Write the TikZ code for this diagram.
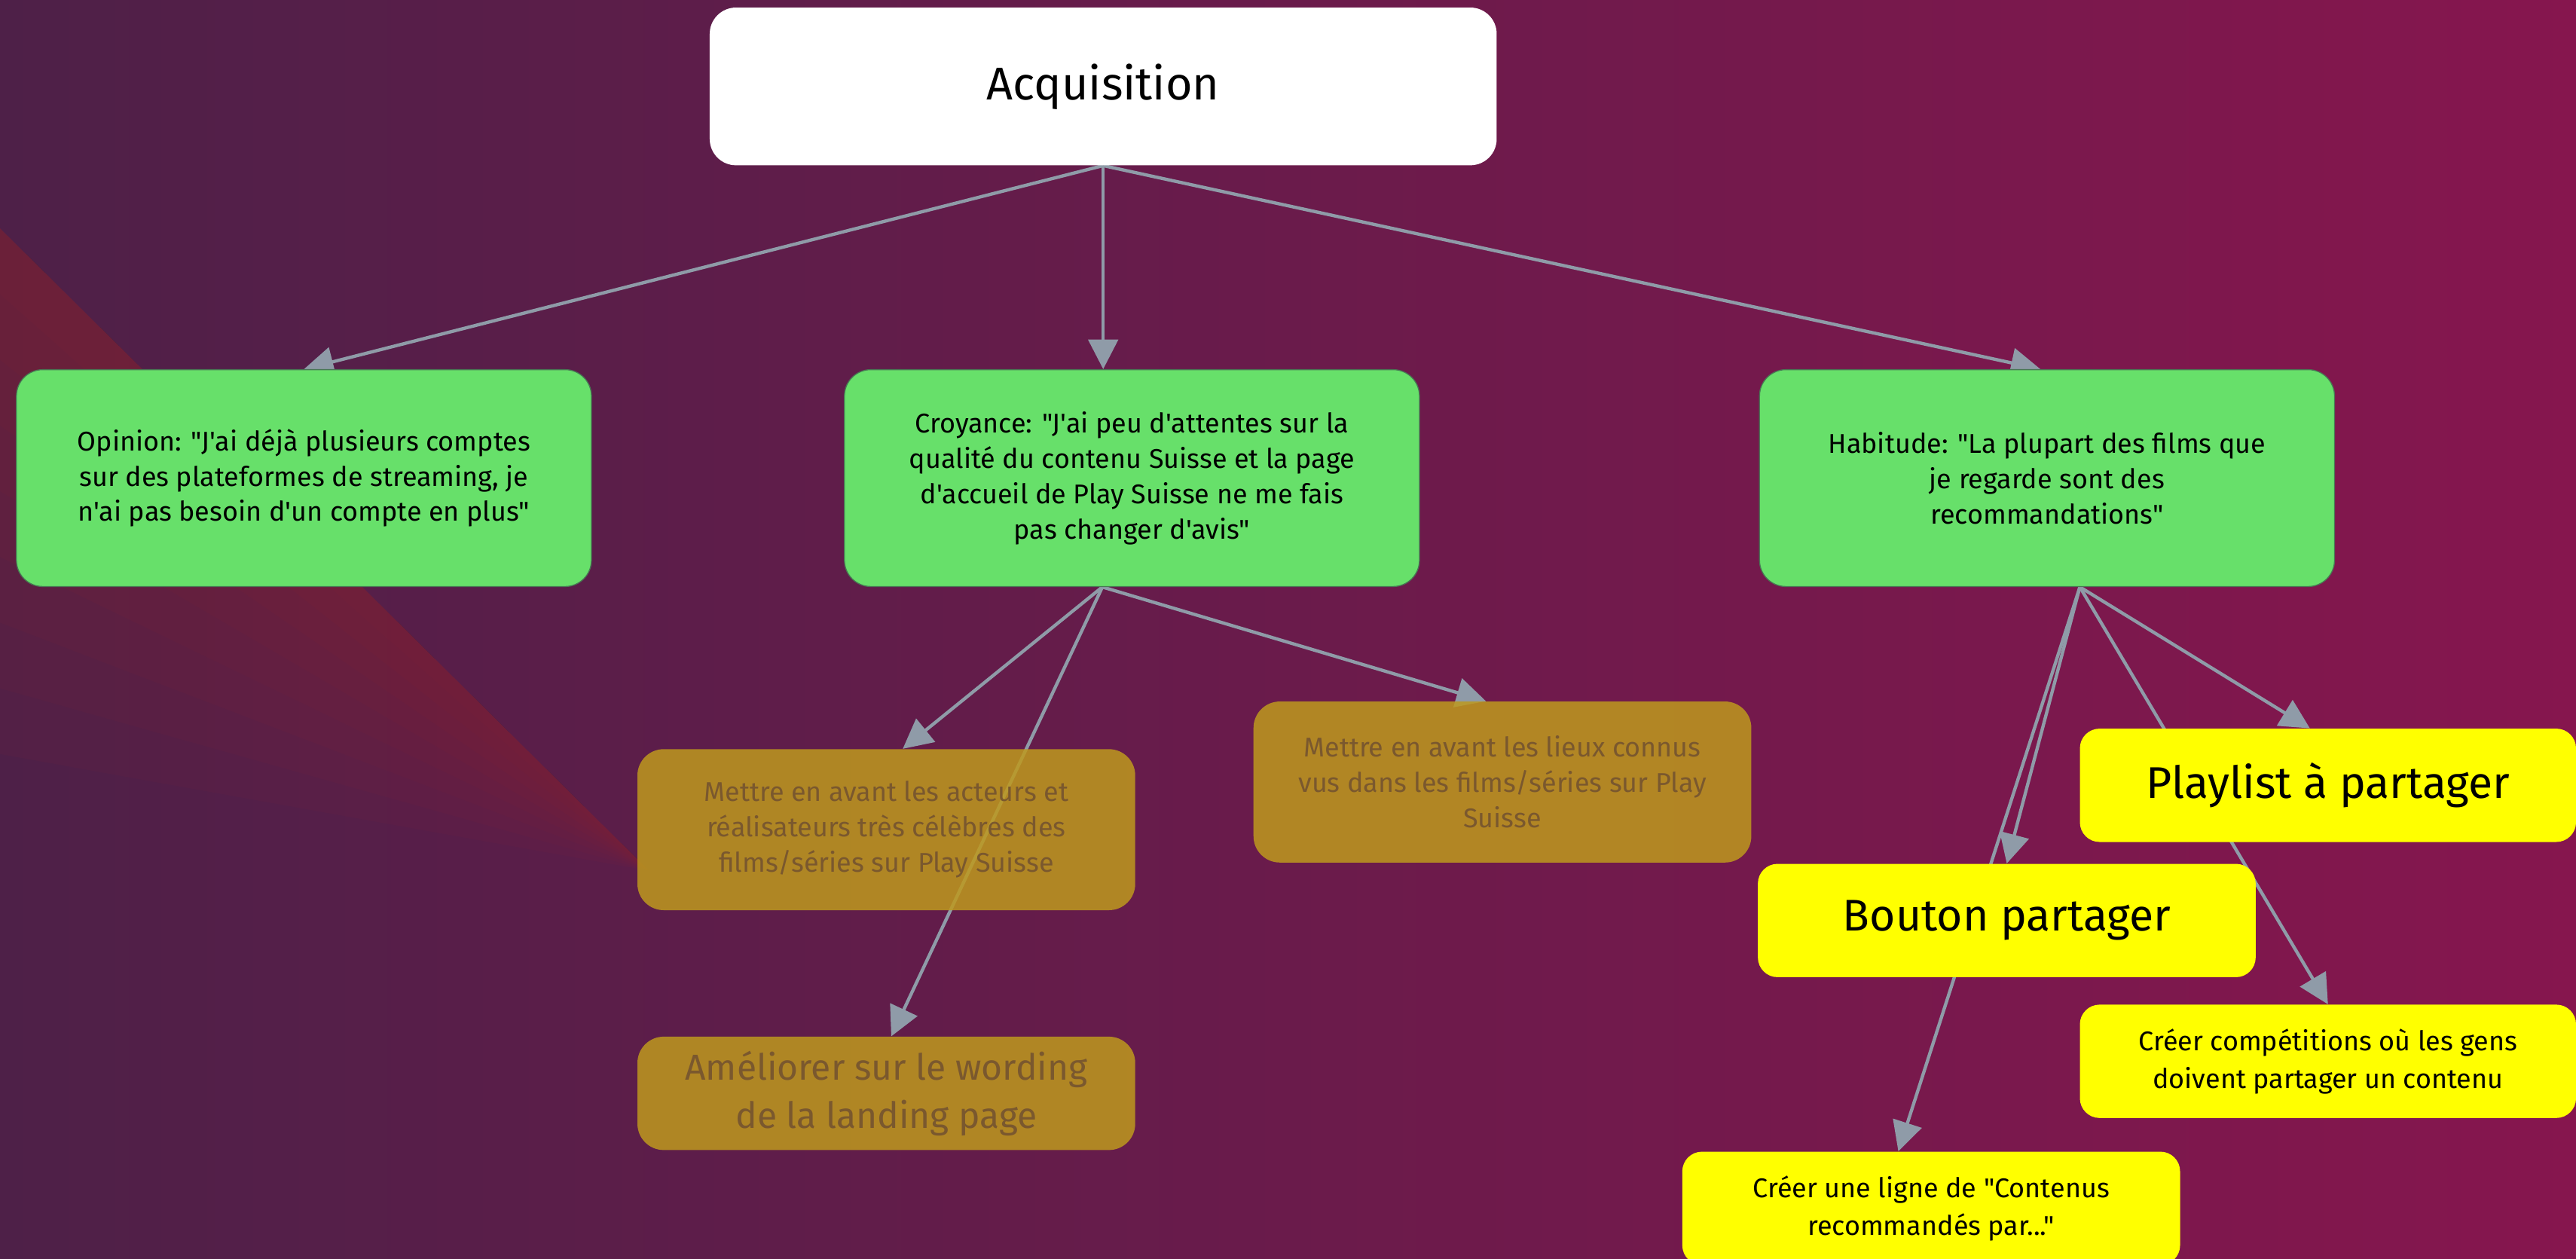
\documentclass[tikz,border=0pt]{standalone}
\usepackage{fontspec}
\setmainfont{Fira Sans}[Ligatures=TeXOff]
\usetikzlibrary{positioning,arrows.meta}

\definecolor{bgleft}{RGB}{78,32,72}
\definecolor{bgright}{RGB}{134,22,78}
\definecolor{wedgered}{RGB}{150,40,45}
\definecolor{beliefgreen}{RGB}{103,224,106}
\definecolor{beliefedge}{RGB}{72,120,84}
\definecolor{linkgrey}{RGB}{143,155,168}
\definecolor{ochre}{RGB}{190,153,30}
\definecolor{ochretext}{RGB}{122,88,46}
\definecolor{hiyellow}{RGB}{255,255,0}

\pgfdeclarelayer{bg}
\pgfdeclarelayer{links}
\pgfsetlayers{bg,links,main}

\tikzset{
  box/.style={rectangle, align=center, inner sep=0pt, rounded corners=16pt},
  goal/.style={box, fill=white, minimum width=479pt, minimum height=96pt,
    font=\fontsize{28}{34}\selectfont},
  belief/.style={box, fill=beliefgreen, draw=beliefedge, line width=0.6pt,
    minimum width=350pt, minimum height=132pt, font=\fontsize{16.5}{21.5}\selectfont},
  idea/.style={box, fill=ochre, fill opacity=0.85, text opacity=1, text=ochretext,
    minimum width=303pt, minimum height=98pt, font=\fontsize{16.5}{21.5}\selectfont},
  action/.style={box, fill=hiyellow, rounded corners=12pt,
    minimum width=303pt, minimum height=69pt, font=\fontsize{16.5}{23}\selectfont},
  link/.style={every edge/.style={draw, color=linkgrey, line width=2pt,
    -{Triangle[length=18pt,width=18pt]}}}
}

\begin{document}
\begin{tikzpicture}[x=1pt, y=-1pt, node distance=100pt, on grid]
\useasboundingbox (0,0) rectangle (1568,766.3);

% background
\begin{pgfonlayer}{bg}
\shade [left color=bgleft, right color=bgright] (0,0) rectangle (1568,766.3);
\foreach \k in {1,...,8}
  \fill [wedgered, opacity=0.07] (0,139) -- (395,530) -- (0,{139+40*\k}) -- cycle;
\end{pgfonlayer}

\node [goal] (acq) at (671.5,52.6) {Acquisition};
\node [belief] (cr) [below right=238.4pt and 17.5pt of acq]
  {Croyance: "J'ai peu d'attentes sur la\\qualité du contenu Suisse et la page\\d'accueil de Play Suisse ne me fais\\pas changer d'avis"};
\node [belief] (op) [left=504pt of cr]
  {Opinion: "J'ai déjà plusieurs comptes\\sur des plateformes de streaming, je\\n'ai pas besoin d'un compte en plus"};
\node [belief] (hab) [right=557pt of cr]
  {Habitude: "La plupart des films que\\je regarde sont des\\recommandations"};

\node [idea] (act) [below left=214pt and 149.5pt of cr]
  {Mettre en avant les acteurs et\\réalisateurs très célèbres des\\films/séries sur Play Suisse};
\node [idea] (lieu) [below right=185pt and 225.5pt of cr]
  {Mettre en avant les lieux connus\\vus dans les films/séries sur Play\\Suisse};
\node [idea, minimum height=69pt, font=\fontsize{22}{29.5}\selectfont] (wor) [below=160.5pt of act]
  {Améliorer sur le wording\\de la landing page};

\node [action, minimum width=302pt, font=\fontsize{27}{32}\selectfont] (pl) [below right=187pt and 171pt of hab] {Playlist à partager};
\node [action, font=\fontsize{27}{32}\selectfont] (btn) [below left=269.3pt and 24.5pt of hab] {Bouton partager};
\node [action, minimum width=302pt] (comp) [below=168pt of pl]
  {Créer compétitions où les gens\\doivent partager un contenu};
\node [action] (lig) [below left=175.2pt and 46pt of btn]
  {Créer une ligne de "Contenus\\recommandés par..."};

\begin{pgfonlayer}{links}
\path [link]
(acq.south) edge (op.north)
            edge (acq.south |- cr.north)
            edge ([xshift=-4pt]hab.north)
([xshift=-18pt]cr.south) edge ([xshift=10pt]act.north)
            edge ([xshift=3pt]wor.north)
            edge ([xshift=-10pt]lieu.north)
([xshift=20pt]hab.south) edge (btn.north)
            edge ([xshift=-20pt]lig.north)
            edge ([xshift=-11pt]pl.north)
            edge (comp.north);
\end{pgfonlayer}
\end{tikzpicture}
\end{document}
